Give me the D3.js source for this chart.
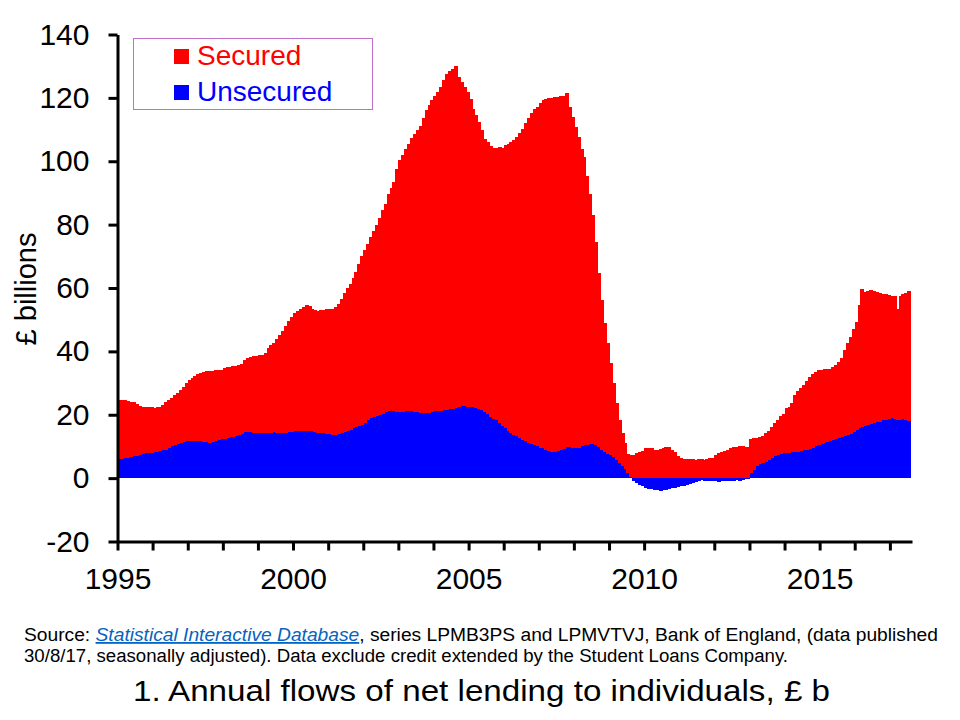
<!DOCTYPE html>
<html>
<head>
<meta charset="utf-8">
<script src="https://cdn.jsdelivr.net/npm/d3@7"></script>
<style>
  html, body { margin: 0; padding: 0; background: #fff; }
  svg { display: block; font-family: "Liberation Sans", Arial, sans-serif; }
</style>
</head>
<body>
<div id="chart"></div>
<script>
// Monthly annual flows, Jan 1995 - Jul 2017, £ billions
const seriesNames = ["Unsecured", "Secured"];

const secured = [
  // 1995
  18.9, 18.6, 18.2, 17.8, 17.4, 17.1, 16.4, 15.4, 14.9, 14.7, 14.5, 14.3,
  // 1996
  14.1, 14.0, 14.0, 14.2, 14.9, 15.0, 15.3, 15.7, 16.1, 16.6, 17.4, 18.3,
  // 1997
  19.3, 19.8, 20.4, 21.2, 21.5, 21.9, 22.4, 22.6, 22.5, 22.2, 21.9, 21.9,
  // 1998
  22.4, 22.3, 22.3, 22.3, 22.3, 22.1, 22.1, 22.8, 23.2, 23.8, 24.1, 24.2,
  // 1999
  24.4, 24.7, 25.2, 26.7, 27.7, 28.4, 29.5, 30.8, 32.2, 33.7, 35.1, 36.2,
  // 2000
  37.2, 37.9, 38.6, 39.1, 39.7, 39.2, 38.7, 38.4, 38.5, 38.7, 39.0, 39.4,
  // 2001
  39.7, 39.8, 40.4, 41.3, 42.3, 43.7, 45.2, 46.2, 47.6, 49.0, 51.1, 53.2,
  // 2002
  54.5, 55.8, 57.0, 58.6, 60.4, 62.1, 64.2, 65.8, 68.6, 70.0, 72.2, 76.7,
  // 2003
  79.4, 81.0, 82.8, 84.2, 85.9, 87.5, 89.2, 90.4, 93.1, 95.7, 97.2, 98.3,
  // 2004
  99.4, 100.7, 102.1, 104.1, 106.0, 106.7, 107.5, 108.0, 104.1, 102.3, 100.8, 99.3,
  // 2005
  97.0, 94.3, 92.3, 90.5, 88.5, 86.1, 85.9, 85.4, 85.5, 85.9, 87.1, 87.7,
  // 2006
  89.3, 90.3, 91.7, 93.2, 94.5, 96.4, 98.3, 100.4, 102.3, 104.5, 106.1, 107.1,
  // 2007
  108.7, 109.8, 110.6, 111.4, 111.7, 112.0, 111.7, 111.7, 111.2, 111.6, 107.3, 104.5,
  // 2008
  101.4, 97.9, 94.0, 91.0, 84.9, 79.1, 72.3, 64.2, 54.7, 47.3, 40.6, 34.9,
  // 2009
  28.9, 23.3, 17.9, 13.5, 10.3, 8.4, 5.9, 6.9, 7.3, 7.8, 8.3, 8.5,
  // 2010
  9.4, 9.6, 9.5, 8.8, 8.9, 9.3, 9.6, 9.9, 9.9, 9.0, 8.3, 7.0,
  // 2011
  6.2, 6.0, 5.9, 5.9, 6.0, 5.8, 5.9, 6.1, 5.8, 6.0, 6.2, 6.5,
  // 2012
  7.3, 7.8, 8.2, 8.6, 9.0, 9.5, 9.9, 9.7, 10.1, 10.0, 9.8, 9.7,
  // 2013
  10.9, 9.9, 9.1, 8.7, 8.4, 8.9, 9.1, 9.7, 10.4, 11.2, 11.9, 12.4,
  // 2014
  14.1, 14.5, 15.7, 17.9, 19.1, 19.9, 20.5, 21.5, 22.7, 23.4, 23.5, 23.7,
  // 2015
  23.4, 23.3, 23.0, 22.9, 23.0, 23.3, 23.9, 24.9, 27.2, 28.9, 30.6, 32.4,
  // 2016
  34.1, 38.9, 43.8, 42.5, 42.3, 42.3, 41.8, 41.2, 40.7, 40.0, 39.5, 39.0,
  // 2017
  38.7, 38.8, 35.2, 38.9, 39.2, 40.1, 41.0
];

const unsecured = [
  // 1995
  5.9, 6.1, 6.3, 6.5, 6.7, 6.9, 7.1, 7.4, 7.7, 7.9, 8.0, 8.0,
  // 1996
  8.1, 8.3, 8.5, 8.8, 9.0, 9.5, 10.0, 10.5, 10.9, 11.2, 11.4, 11.6,
  // 1997
  11.7, 11.8, 11.8, 11.8, 11.7, 11.5, 11.3, 11.1, 11.3, 11.8, 12.1, 12.3,
  // 1998
  12.5, 12.7, 12.9, 13.0, 13.2, 13.5, 13.9, 14.4, 14.6, 14.5, 14.3, 14.3,
  // 1999
  14.3, 14.2, 14.3, 14.3, 14.3, 14.4, 14.3, 14.3, 14.3, 14.3, 14.4, 14.6,
  // 2000
  14.8, 14.9, 14.9, 14.9, 14.9, 15.0, 14.8, 14.6, 14.3, 14.3, 14.2, 14.0,
  // 2001
  13.8, 13.6, 13.6, 13.8, 14.2, 14.6, 14.8, 15.2, 15.7, 16.1, 16.4, 16.8,
  // 2002
  17.5, 18.2, 19.0, 19.4, 19.6, 19.9, 20.3, 20.8, 21.2, 21.5, 21.3, 21.0,
  // 2003
  20.9, 21.0, 21.2, 21.3, 21.3, 21.0, 20.8, 20.6, 20.4, 20.4, 20.6, 20.9,
  // 2004
  21.1, 21.3, 21.3, 21.4, 21.6, 21.7, 21.7, 22.0, 22.4, 22.7, 22.7, 22.6,
  // 2005
  22.5, 22.3, 22.2, 21.9, 21.5, 20.9, 20.2, 19.4, 18.8, 18.3, 17.4, 16.5,
  // 2006
  15.7, 15.0, 14.3, 13.6, 13.2, 12.6, 12.0, 11.6, 11.2, 10.8, 10.4, 10.0,
  // 2007
  9.6, 9.4, 9.0, 8.6, 8.3, 8.3, 8.6, 8.8, 9.3, 9.9, 9.8, 9.5,
  // 2008
  9.4, 9.6, 10.0, 10.4, 10.6, 10.7, 10.7, 10.3, 9.9, 8.9, 8.2, 7.6,
  // 2009
  7.3, 6.6, 5.7, 4.8, 3.8, 2.8, 1.6, 0.4, -0.8, -1.5, -2.2, -2.6,
  // 2010
  -3.0, -3.3, -3.5, -3.7, -3.8, -4.0, -3.9, -3.6, -3.4, -3.2, -3.0, -2.8,
  // 2011
  -2.6, -2.4, -2.2, -1.9, -1.6, -1.2, -0.9, -0.7, -0.8, -1.0, -1.0, -1.0,
  // 2012
  -1.0, -1.1, -1.0, -1.0, -1.0, -0.9, -0.8, -0.7, -1.0, -0.6, -0.3, -0.2,
  // 2013
  1.6, 2.7, 3.7, 4.3, 4.8, 5.2, 5.7, 6.3, 6.9, 7.3, 7.6, 7.8,
  // 2014
  7.9, 8.0, 8.1, 8.3, 8.4, 8.6, 8.8, 9.0, 9.3, 9.6, 10.0, 10.4,
  // 2015
  10.7, 11.0, 11.3, 11.6, 12.0, 12.3, 12.6, 12.9, 13.2, 13.6, 14.0, 14.6,
  // 2016
  15.2, 15.7, 16.0, 16.3, 16.7, 17.0, 17.3, 17.6, 17.8, 18.2, 18.5, 18.8,
  // 2017
  18.9, 18.6, 18.3, 18.5, 18.8, 18.4, 18.0
];

const yTicks = [-20, 0, 20, 40, 60, 80, 100, 120, 140];
const yearTicks = d3.range(1995, 2018);
const yearLabels = [1995, 2000, 2005, 2010, 2015];

const sourceLine1 = ["Source: ", "Statistical Interactive Database",
  ", series LPMB3PS and LPMVTVJ, Bank of England, (data published"];
const sourceLine2 = "30/8/17, seasonally adjusted). Data exclude credit extended by the Student Loans Company.";
const chartTitle = "1. Annual flows of net lending to individuals, \u00a3 b";

// months: one per value, starting Jan 1995
const months = d3.timeMonth.range(new Date(1995, 0, 1), new Date(1995, secured.length, 1));
const rows = months.map((m, i) => ({ date: m, Unsecured: unsecured[i], Secured: secured[i] }));

const width = 960, height = 720;
const colors = { Secured: "#ff0000", Unsecured: "#0000ff" };

const x = d3.scaleTime()
  .domain([new Date(1995, 0, 1), new Date(2017, 7, 19)])
  .range([117.5, 912]);

const y = d3.scaleLinear()
  .domain([-20, 140])
  .range([541.5, 34.5]);

const svg = d3.select("#chart").append("svg")
  .attr("width", width)
  .attr("height", height);

// stacked columns, negative values stack below zero
const stack = d3.stack()
  .keys(seriesNames)
  .offset(d3.stackOffsetDiverging);
const layers = stack(rows);

svg.append("g")
  .attr("shape-rendering", "crispEdges")
  .selectAll("g")
  .data(layers)
  .join("g")
    .attr("fill", d => colors[d.key])
  .selectAll("rect")
  .data(d => d)
  .join("rect")
    .attr("x", d => x(d.data.date))
    .attr("width", d => x(d3.timeMonth.offset(d.data.date, 1)) - x(d.data.date) + 1)
    .attr("y", d => y(Math.max(d[0], d[1])))
    .attr("height", d => Math.abs(y(d[0]) - y(d[1])));

// axes
const yAxis = d3.axisLeft(y)
  .tickValues(yTicks)
  .tickFormat(d => String(d))
  .tickSize(9)
  .tickSizeOuter(0)
  .tickPadding(19);

const yG = svg.append("g")
  .attr("transform", `translate(${x.range()[0]},0)`)
  .call(yAxis);

const xAxis = d3.axisBottom(x)
  .tickValues(yearTicks.map(yr => new Date(yr, 0, 1)))
  .tickFormat(d => yearLabels.includes(d.getFullYear()) ? d.getFullYear() : "")
  .tickSize(9)
  .tickSizeOuter(0)
  .tickPadding(17);

const xG = svg.append("g")
  .attr("transform", `translate(0,${y(-20)})`)
  .call(xAxis);

[yG, xG].forEach(g => {
  g.select(".domain").attr("stroke", "#000").attr("stroke-width", 3);
  g.selectAll(".tick line").attr("stroke", "#000").attr("stroke-width", 3);
  g.selectAll(".tick text")
    .attr("fill", "#000")
    .style("font-size", "30px")
    .style("font-family", "'Liberation Sans', Arial, sans-serif");
});

// y axis title
svg.append("text")
  .attr("transform", "translate(36,289) rotate(-90)")
  .attr("text-anchor", "middle")
  .style("font-size", "29px")
  .text("\u00a3 billions");

// legend
const legend = svg.append("g");
legend.append("rect")
  .attr("x", 133.5).attr("y", 38.5)
  .attr("width", 239).attr("height", 71)
  .attr("fill", "#fff")
  .attr("stroke", "#c070c8")
  .attr("stroke-width", 1);

["Secured", "Unsecured"].forEach((name, i) => {
  legend.append("rect")
    .attr("x", 174).attr("y", 49 + i * 36)
    .attr("width", 15).attr("height", 15)
    .attr("fill", colors[name]);
  legend.append("text")
    .attr("x", 197).attr("y", 65 + i * 36)
    .attr("fill", colors[name])
    .style("font-size", "28px")
    .text(name);
});

// source note
const src1 = svg.append("text")
  .attr("x", 24).attr("y", 641)
  .attr("textLength", 914)
  .attr("lengthAdjust", "spacingAndGlyphs")
  .style("font-size", "18px");
src1.append("tspan").text(sourceLine1[0]);
src1.append("tspan")
  .attr("fill", "#0563c1")
  .attr("font-style", "italic")
  .attr("text-decoration", "underline")
  .text(sourceLine1[1]);
src1.append("tspan").text(sourceLine1[2]);

svg.append("text")
  .attr("x", 24).attr("y", 662)
  .attr("textLength", 764)
  .attr("lengthAdjust", "spacingAndGlyphs")
  .style("font-size", "18px")
  .text(sourceLine2);

// chart title
svg.append("text")
  .attr("x", 133).attr("y", 701)
  .attr("textLength", 697)
  .attr("lengthAdjust", "spacingAndGlyphs")
  .style("font-size", "29px")
  .text(chartTitle);
</script>
</body>
</html>
